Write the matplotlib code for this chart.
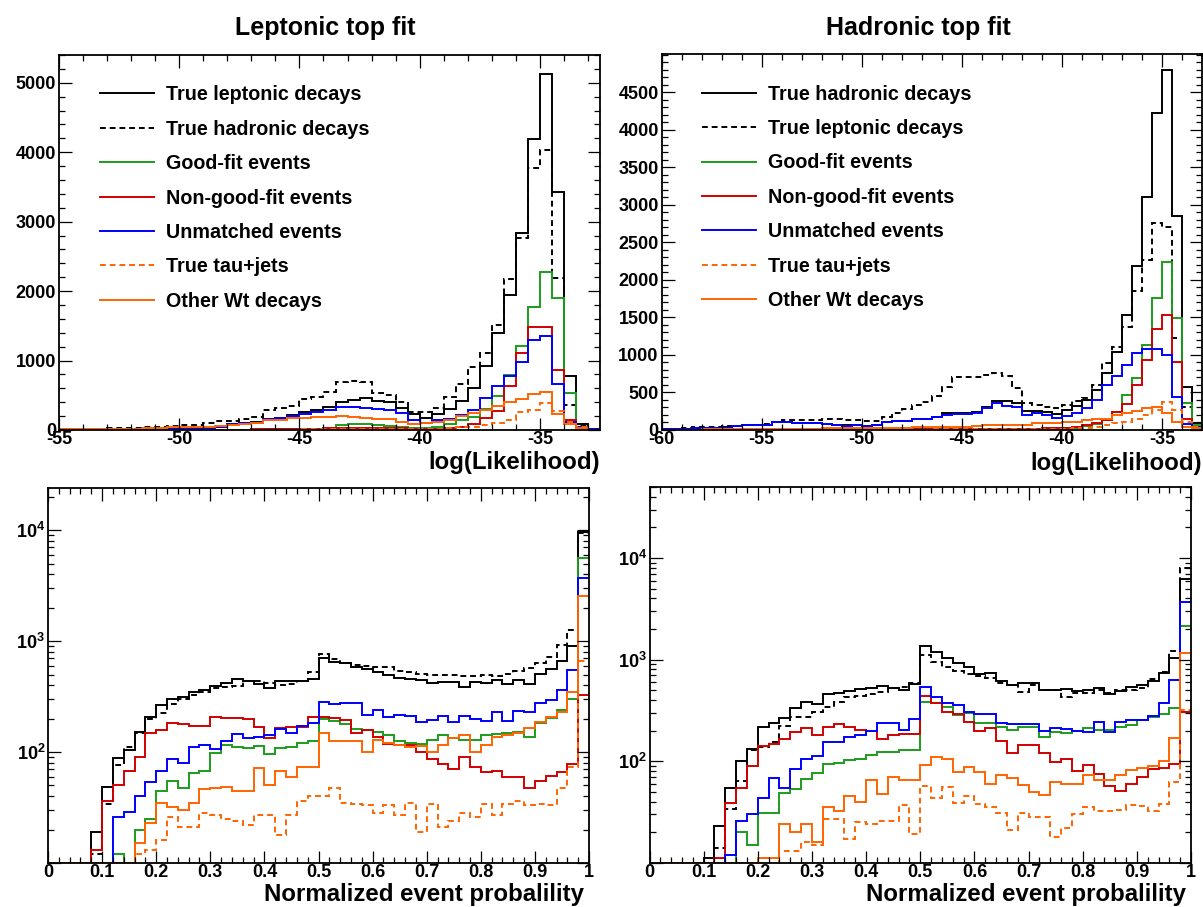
import numpy as np
import matplotlib
matplotlib.use("Agg")
import matplotlib.pyplot as plt
from matplotlib.ticker import MultipleLocator, FixedLocator, FuncFormatter, LogLocator, NullFormatter

plt.rcParams['font.family'] = ['Liberation Sans', 'DejaVu Sans']
plt.rcParams['font.weight'] = 'bold'
plt.rcParams['axes.unicode_minus'] = False
plt.rcParams['mathtext.fontset'] = 'custom'
plt.rcParams['mathtext.bf'] = 'Liberation Sans:bold'
plt.rcParams['mathtext.rm'] = 'Liberation Sans:bold'

# ---------------- leptonic top fit, log(Likelihood), 0.5 wide bins from -55 ----------------
lep_true_lep = [3, 4, 5, 6, 7, 8, 8, 10, 12, 14,
                18, 36, 36, 50, 84, 108, 110, 160, 172, 216,
                264, 288, 326, 408, 432, 456, 422, 408, 312, 230,
                168, 230, 297, 422, 600, 921, 1392, 1939, 2841, 4190,
                5125, 3422, 777, 86, 10]
lep_true_had = [8, 10, 14, 18, 22, 28, 32, 38, 50, 58,
                65, 75, 96, 125, 130, 154, 182, 288, 312, 346,
                441, 480, 552, 696, 710, 696, 528, 504, 410, 264,
                264, 312, 475, 660, 902, 1104, 1512, 2174, 2760, 3768,
                4031, 2184, 360, 72, 5]
lep_good = [0, 0, 0, 0, 0, 0, 0, 0, 0, 0,
            0, 0, 2, 3, 4, 5, 6, 8, 10, 12,
            14, 20, 34, 72, 90, 86, 72, 58, 38, 24,
            34, 48, 86, 144, 192, 298, 490, 792, 1209, 1775,
            2279, 1895, 528, 24, 2]
lep_nongood = [0, 0, 0, 0, 0, 0, 0, 0, 0, 0,
               2, 2, 3, 4, 5, 6, 8, 10, 12, 15,
               18, 20, 24, 30, 36, 36, 34, 30, 24, 20,
               18, 20, 30, 48, 86, 168, 278, 634, 1104, 1487,
               1487, 865, 144, 48, 0]
lep_unmatched = [2, 3, 3, 4, 5, 6, 5, 8, 10, 12,
                 15, 34, 34, 48, 82, 106, 106, 158, 168, 202,
                 226, 254, 288, 336, 336, 312, 302, 288, 250, 144,
                 96, 144, 154, 216, 288, 456, 634, 777, 984, 1296,
                 1354, 662, 110, 48, 10]
lep_tau = [0, 0, 0, 0, 0, 0, 0, 0, 0, 0,
           0, 0, 0, 0, 0, 2, 3, 4, 5, 6,
           8, 10, 12, 14, 14, 14, 12, 10, 10, 10,
           15, 20, 24, 40, 50, 72, 100, 144, 264, 288,
           390, 270, 110, 40, 5]
lep_other = [10, 12, 14, 14, 16, 18, 20, 24, 30, 40,
             48, 48, 48, 60, 72, 90, 96, 144, 144, 168,
             172, 182, 182, 202, 182, 168, 160, 154, 120, 86,
             96, 120, 144, 202, 250, 288, 340, 400, 450, 520,
             545, 225, 86, 24, 5]

# ---------------- hadronic top fit, log(Likelihood), 0.5 wide bins from -60 ----------------
had_true_had = [10, 12, 14, 22, 24, 31, 35, 53, 67, 67,
                70, 111, 105, 98, 89, 89, 84, 71, 60, 71,
                55, 67, 111, 120, 124, 142, 142, 178, 222, 222,
                230, 240, 302, 391, 380, 355, 250, 255, 240, 213,
                267, 320, 400, 533, 755, 1044, 1528, 2190, 3101, 4220,
                4797, 2852, 569, 89]
had_true_lep = [18, 18, 27, 36, 40, 44, 53, 53, 67, 67,
                80, 110, 133, 133, 133, 133, 142, 142, 133, 133,
                124, 124, 178, 222, 275, 333, 378, 453, 568, 700,
                700, 710, 733, 760, 720, 555, 364, 333, 310, 293,
                330, 380, 420, 600, 888, 1100, 1377, 1857, 2265, 2760,
                2700, 1230, 300, 44]
had_good = [0, 0, 0, 2, 2, 3, 3, 4, 4, 5,
            5, 5, 6, 6, 6, 7, 7, 8, 8, 8,
            8, 9, 9, 10, 10, 10, 11, 11, 12, 12,
            12, 13, 13, 14, 14, 15, 16, 18, 20, 22,
            25, 30, 50, 80, 133, 244, 466, 689, 1133, 1755,
            2243, 1488, 364, 67]
had_nongood = [0, 0, 0, 1, 2, 2, 3, 3, 4, 4,
               4, 5, 5, 5, 6, 6, 6, 7, 7, 7,
               8, 8, 8, 9, 9, 10, 10, 10, 11, 11,
               12, 12, 13, 13, 14, 15, 16, 18, 20, 24,
               30, 45, 60, 89, 130, 244, 350, 600, 933, 1340,
               1532, 911, 150, 20]
had_unmatched = [8, 10, 12, 22, 22, 31, 31, 53, 67, 67,
                 67, 111, 102, 98, 89, 89, 84, 71, 58, 71,
                 53, 67, 111, 120, 124, 142, 142, 178, 200, 213,
                 213, 230, 289, 355, 325, 302, 200, 222, 200, 155,
                 187, 222, 289, 400, 600, 720, 866, 1022, 1075, 1085,
                 999, 435, 80, 44]
had_tau = [0, 0, 0, 0, 0, 0, 0, 0, 0, 0,
           0, 0, 0, 1, 1, 2, 2, 2, 3, 3,
           3, 4, 4, 5, 5, 6, 6, 7, 7, 8,
           8, 9, 10, 10, 11, 12, 12, 13, 14, 15,
           18, 22, 30, 44, 67, 89, 110, 150, 200, 267,
           370, 267, 111, 44]
had_other = [5, 5, 6, 6, 7, 8, 8, 9, 10, 10,
             12, 12, 14, 15, 16, 18, 20, 20, 22, 22,
             25, 27, 27, 30, 33, 36, 40, 44, 44, 44,
             44, 50, 67, 67, 67, 67, 70, 89, 89, 89,
             111, 111, 133, 142, 142, 200, 231, 258, 289, 311,
             222, 111, 44, 22]

# ---------------- normalized event probability, 0.02 wide bins ----------------
plep_true_lep = [0, 0, 0, 0, 19, 48, 88, 105, 153, 205,
                 263, 300, 315, 350, 360, 390, 420, 455, 440, 410,
                 380, 440, 435, 440, 460, 700, 655, 640, 590, 560,
                 528, 500, 467, 455, 442, 415, 424, 430, 387, 430,
                 416, 442, 409, 448, 412, 507, 560, 668, 907, 9660]
plep_true_had = [0, 0, 0, 0, 12, 34, 77, 112, 150, 200,
                 225, 270, 300, 330, 345, 375, 385, 390, 440, 440,
                 415, 400, 410, 440, 532, 760, 690, 640, 610, 600,
                 585, 580, 540, 530, 505, 495, 495, 500, 480, 480,
                 490, 480, 510, 540, 571, 641, 726, 920, 1250, 9500]
plep_good = [0, 0, 0, 0, 0, 0, 12, 0, 20, 25,
             45, 55, 47, 65, 68, 98, 115, 110, 108, 113,
             97, 108, 112, 120, 125, 200, 191, 180, 162, 157,
             152, 143, 127, 121, 118, 129, 143, 134, 129, 129,
             143, 145, 149, 151, 138, 182, 203, 237, 300, 5560]
plep_nongood = [0, 0, 0, 0, 13, 36, 50, 67, 90, 150,
                157, 182, 179, 172, 172, 207, 204, 201, 198, 167,
                135, 165, 167, 167, 209, 209, 203, 193, 150, 157,
                138, 119, 116, 116, 100, 87, 78, 71, 91, 73,
                66, 68, 60, 60, 47, 55, 61, 66, 78, 328]
plep_unmatched = [0, 0, 0, 0, 0, 0, 26, 29, 40, 54,
                  68, 87, 79, 112, 116, 107, 126, 145, 133, 138,
                  142, 161, 148, 170, 182, 280, 270, 278, 275, 217,
                  237, 206, 217, 213, 188, 196, 213, 188, 211, 200,
                  191, 232, 190, 235, 229, 275, 296, 364, 545, 3740]
plep_tau = [0, 0, 0, 0, 0, 0, 0, 0, 12, 13,
            16, 26, 21, 21, 28, 27, 25, 24, 22, 27,
            27, 18, 27, 36, 40, 40, 47, 35, 34, 33,
            28, 33, 27, 35, 19, 34, 21, 24, 28, 26,
            34, 27, 34, 36, 33, 34, 33, 47, 74, 656]
plep_other = [0, 0, 0, 0, 0, 0, 0, 0, 15, 23,
              35, 32, 30, 35, 46, 47, 48, 45, 45, 72,
              51, 67, 60, 74, 74, 150, 125, 127, 127, 101,
              129, 120, 116, 112, 114, 101, 116, 134, 143, 101,
              116, 138, 143, 148, 165, 185, 205, 228, 347, 2560]

phad_true_had = [0, 0, 0, 0, 0, 11, 23, 55, 100, 133,
                 218, 239, 267, 335, 378, 364, 454, 471, 493, 512,
                 530, 548, 528, 500, 574, 1359, 1186, 1028, 916, 850,
                 719, 741, 618, 561, 591, 591, 497, 500, 508, 485,
                 500, 520, 457, 493, 532, 560, 618, 741, 1043, 6170]
phad_true_lep = [0, 0, 0, 0, 0, 0, 14, 34, 64, 128,
                 138, 155, 221, 273, 273, 306, 343, 380, 424, 440,
                 457, 475, 520, 532, 583, 1107, 951, 850, 776, 720,
                 687, 653, 591, 561, 482, 561, 500, 500, 430, 464,
                 464, 500, 464, 500, 500, 520, 638, 760, 1222, 7900]
phad_good = [0, 0, 0, 0, 0, 0, 0, 0, 20, 15,
             31, 31, 49, 53, 66, 76, 93, 95, 102, 106,
             114, 124, 124, 128, 130, 384, 376, 343, 284, 295,
             235, 238, 218, 202, 218, 218, 171, 192, 190, 199,
             210, 202, 202, 218, 225, 253, 270, 290, 330, 2150]
phad_nongood = [0, 0, 0, 0, 0, 0, 11, 39, 55, 89,
                142, 146, 164, 195, 210, 180, 215, 230, 215, 202,
                200, 165, 180, 184, 184, 440, 376, 306, 290, 244,
                199, 210, 159, 121, 144, 144, 119, 98, 105, 80,
                91, 75, 57, 51, 59, 70, 84, 85, 93, 306]
phad_unmatched = [0, 0, 0, 0, 0, 0, 0, 12, 26, 30,
                  43, 68, 54, 83, 105, 113, 153, 155, 174, 180,
                  200, 240, 235, 202, 257, 540, 430, 370, 356, 302,
                  289, 289, 240, 232, 231, 231, 199, 213, 205, 199,
                  192, 244, 192, 244, 253, 255, 277, 370, 628, 3720]
phad_tau = [0, 0, 0, 0, 0, 0, 0, 0, 0, 0,
            0, 0, 13, 13, 16, 15, 27, 27, 17, 25,
            24, 26, 26, 37, 19, 57, 43, 56, 39, 45,
            38, 35, 31, 21, 31, 28, 28, 18, 22, 30,
            35, 32, 32, 33, 37, 36, 32, 38, 62, 320]
phad_other = [0, 0, 0, 0, 0, 0, 0, 0, 0, 0,
              11, 11, 24, 20, 24, 16, 35, 32, 45, 40,
              65, 48, 69, 65, 65, 91, 109, 105, 79, 88,
              79, 60, 73, 68, 58, 50, 46, 63, 59, 59,
              73, 65, 65, 73, 81, 85, 89, 100, 170, 1160]

lep_labels = ["True leptonic decays", "True hadronic decays", "Good-fit events",
              "Non-good-fit events", "Unmatched events", "True tau+jets", "Other Wt decays"]
had_labels = ["True hadronic decays", "True leptonic decays", "Good-fit events",
              "Non-good-fit events", "Unmatched events", "True tau+jets", "Other Wt decays"]

colors = ["black", "black", "#1c9c1c", "#d00000", "#0000ff", "#ff6400", "#ff6400"]
styles = ["-", (0, (3, 2)), "-", "-", "-", (0, (3, 2)), "-"]

W, H = 1203, 907


def px_axes(fig, left, top, right, bottom):
    # axes box from pixel coordinates of the picture
    return fig.add_axes([left / W, 1 - bottom / H, (right - left) / W, (bottom - top) / H])


def draw_hists(ax, edges, series, labels=None, floor=None):
    for i, vals in enumerate(series):
        v = np.asarray(vals, dtype=float)
        if floor is not None:
            v = np.where(v > 0, v, floor)
        ax.stairs(v, edges, color=colors[i], linestyle=styles[i], linewidth=1.4,
                  baseline=None, label=None if labels is None else labels[i])


def style_axes(ax):
    ax.tick_params(which='both', direction='in', top=True, right=True, width=0.9,
                   labelsize=13)
    ax.tick_params(which='major', length=9)
    ax.tick_params(which='minor', length=4.5)
    ax.tick_params(axis='y', pad=2)
    ax.tick_params(axis='x', pad=1)
    for s in ax.spines.values():
        s.set_linewidth(1.3)


int_fmt = FuncFormatter(lambda v, p: "%d" % round(v))
prob_fmt = FuncFormatter(lambda v, p: "%g" % round(v, 2))
log_fmt = FuncFormatter(lambda v, p: "" if v < 50 else r"$\mathbf{10^{%d}}$" % round(np.log10(v)))

fig = plt.figure(figsize=(W / 100, H / 100), dpi=100)

# top left
ax1 = px_axes(fig, 59, 55, 600, 430)
edges_lep = np.arange(-55, -32.5 + 0.01, 0.5)
draw_hists(ax1, edges_lep, [lep_true_lep, lep_true_had, lep_good, lep_nongood,
                            lep_unmatched, lep_tau, lep_other], lep_labels)
ax1.set_xlim(-55, -32.5)
ax1.set_ylim(0, 5400)
ax1.xaxis.set_major_locator(MultipleLocator(5))
ax1.xaxis.set_minor_locator(MultipleLocator(1))
ax1.yaxis.set_major_locator(FixedLocator(np.arange(0, 5001, 1000)))
ax1.yaxis.set_minor_locator(MultipleLocator(200))
ax1.xaxis.set_major_formatter(int_fmt)
ax1.yaxis.set_major_formatter(int_fmt)

# top right
ax2 = px_axes(fig, 661.5, 54, 1202, 430)
edges_had = np.arange(-60, -33 + 0.01, 0.5)
draw_hists(ax2, edges_had, [had_true_had, had_true_lep, had_good, had_nongood,
                            had_unmatched, had_tau, had_other], had_labels)
ax2.set_xlim(-60, -33)
ax2.set_ylim(0, 5010)
ax2.xaxis.set_major_locator(MultipleLocator(5))
ax2.xaxis.set_minor_locator(MultipleLocator(1))
ax2.yaxis.set_major_locator(FixedLocator(np.arange(0, 4501, 500)))
ax2.yaxis.set_minor_locator(MultipleLocator(100))
ax2.xaxis.set_major_formatter(int_fmt)
ax2.yaxis.set_major_formatter(int_fmt)

# bottom left
ax3 = px_axes(fig, 48, 488, 589, 863)
edges_p = np.linspace(0, 1, 51)
draw_hists(ax3, edges_p, [plep_true_lep, plep_true_had, plep_good, plep_nongood,
                          plep_unmatched, plep_tau, plep_other], floor=10)
ax3.set_yscale('log')
ax3.set_ylim(10, 24000)

# bottom right
ax4 = px_axes(fig, 649.5, 487, 1191, 862.7)
draw_hists(ax4, edges_p, [phad_true_had, phad_true_lep, phad_good, phad_nongood,
                          phad_unmatched, phad_tau, phad_other], floor=10)
ax4.set_yscale('log')
ax4.set_ylim(10, 50000)

for ax in (ax3, ax4):
    ax.set_xlim(0, 1)
    ax.xaxis.set_major_locator(MultipleLocator(0.1))
    ax.xaxis.set_minor_locator(MultipleLocator(0.02))
    ax.xaxis.set_major_formatter(prob_fmt)
    ax.yaxis.set_major_locator(LogLocator(base=10))
    ax.yaxis.set_minor_locator(LogLocator(base=10, subs=np.arange(2, 10)))
    ax.yaxis.set_major_formatter(log_fmt)
    ax.yaxis.set_minor_formatter(NullFormatter())

for ax in (ax1, ax2, ax3, ax4):
    style_axes(ax)

# legends
leg_kw = dict(loc='upper left', frameon=False, fontsize=14.2, handlelength=2.75,
              handletextpad=0.6, labelspacing=0.78, borderpad=0, borderaxespad=0)
ax1.legend(bbox_to_anchor=(0.076, 0.919), **leg_kw)
ax2.legend(bbox_to_anchor=(0.075, 0.9185), **leg_kw)

# axis titles
for ax in (ax1, ax2):
    ax.text(1.0, -0.088, "log(Likelihood)", transform=ax.transAxes,
            ha='right', va='center', fontsize=17.3)
for ax in (ax3, ax4):
    ax.text(0.99, -0.085, "Normalized event probalility", transform=ax.transAxes,
            ha='right', va='center', fontsize=17.3)

fig.text(325 / W, 1 - 28 / H, "Leptonic top fit", ha='center', va='center', fontsize=18)
fig.text(918 / W, 1 - 28 / H, "Hadronic top fit", ha='center', va='center', fontsize=18)

fig.savefig("out.png", dpi=100)
